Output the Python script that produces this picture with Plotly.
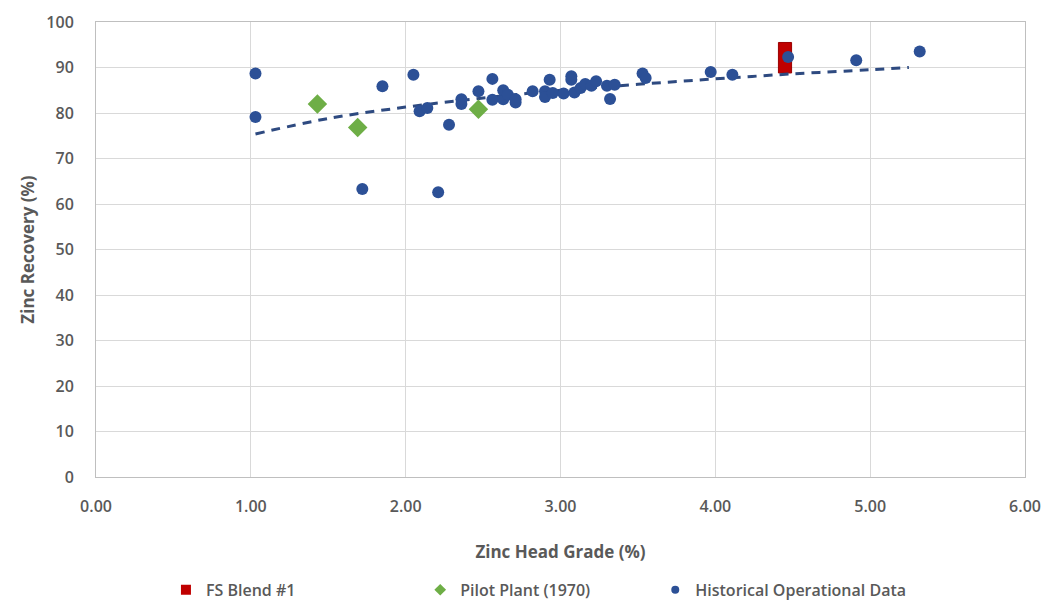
import plotly.graph_objects as go

# Historical Operational Data
hist_x = [1.03, 1.03, 1.72, 1.85, 2.05, 2.09, 2.14, 2.21, 2.28, 2.36, 2.36, 2.47, 2.56, 2.56,
          2.63, 2.63, 2.66, 2.71, 2.71, 2.82, 2.90, 2.90, 2.93, 2.95, 3.02, 3.07, 3.07, 3.09,
          3.13, 3.16, 3.20, 3.23, 3.30, 3.32, 3.35, 3.53, 3.55, 3.97, 4.11, 4.47, 4.91, 5.32]
hist_y = [88.7, 79.1, 63.3, 85.9, 88.4, 80.4, 81.1, 62.6, 77.4, 82.0, 83.0, 84.8, 87.5, 82.9,
          83.0, 85.0, 84.0, 82.3, 83.0, 84.8, 84.8, 83.5, 87.3, 84.4, 84.3, 88.1, 87.3, 84.5,
          85.5, 86.4, 86.0, 87.0, 86.0, 83.1, 86.2, 88.7, 87.7, 89.0, 88.4, 92.3, 91.6, 93.5]

# Pilot Plant (1970)
pilot_x = [1.43, 1.69, 2.47]
pilot_y = [82.0, 76.8, 80.8]

# FS Blend #1 (drawn as a tall red block)
fs_x = [4.45]
fs_low = [88.8]
fs_high = [95.5]

# Trend line
trend_x = [1.03, 1.5, 2.0, 2.5, 3.0, 3.5, 4.0, 4.5, 5.0, 5.25]
trend_y = [75.4, 78.8, 81.3, 83.3, 85.0, 86.3, 87.5, 88.6, 89.5, 90.0]

x_ticks = [0, 1, 2, 3, 4, 5, 6]
y_ticks = [0, 10, 20, 30, 40, 50, 60, 70, 80, 90, 100]

BLUE = "#2C5096"
GREEN = "#6EAE46"
RED = "#C00000"
TEXT = "#595959"
FONT = "Open Sans"

tick_font = dict(family=FONT, size=16, color=TEXT, weight=600)
title_font = dict(family=FONT, size=17, color=TEXT, weight=700)
legend_font = dict(family=FONT, size=16, color=TEXT, weight=600)

fig = go.Figure()

fig.add_trace(go.Bar(
    x=fs_x, base=fs_low, y=[h - l for h, l in zip(fs_high, fs_low)],
    width=0.085, marker=dict(color=RED, line=dict(color="#9A0000", width=1)),
    showlegend=False, hoverinfo="skip"))

fig.add_trace(go.Scatter(
    x=trend_x, y=trend_y, mode="lines",
    line=dict(color="#2E4A80", width=3, dash="9px,7px", shape="spline"),
    showlegend=False, hoverinfo="skip"))

fig.add_trace(go.Scatter(
    x=pilot_x, y=pilot_y, mode="markers",
    marker=dict(symbol="diamond", size=15, color=GREEN),
    showlegend=False))

fig.add_trace(go.Scatter(
    x=hist_x, y=hist_y, mode="markers",
    marker=dict(symbol="circle", size=12, color=BLUE),
    showlegend=False))

# Legend-only entries, each in its own legend box
fig.add_trace(go.Scatter(x=[None], y=[None], mode="markers", name="FS Blend #1",
                         marker=dict(symbol="square", size=10, color=RED), legend="legend"))
fig.add_trace(go.Scatter(x=[None], y=[None], mode="markers", name="Pilot Plant (1970)",
                         marker=dict(symbol="diamond", size=9, color=GREEN), legend="legend2"))
fig.add_trace(go.Scatter(x=[None], y=[None], mode="markers", name="Historical Operational Data",
                         marker=dict(symbol="circle", size=8, color=BLUE), legend="legend3"))

leg_common = dict(orientation="h", xanchor="left", y=-0.248, yanchor="middle",
                  font=legend_font, bgcolor="rgba(0,0,0,0)")

fig.update_layout(
    width=1049, height=597,
    margin=dict(l=88, r=32, t=14, b=128, autoexpand=False),
    paper_bgcolor="white", plot_bgcolor="white",
    font=dict(family=FONT, color=TEXT, size=15),
    barmode="overlay",
    showlegend=True,
    legend=dict(x=0.0753, **leg_common),
    legend2=dict(x=0.349, **leg_common),
    legend3=dict(x=0.602, **leg_common),
)

fig.update_xaxes(
    range=[0, 6], tickvals=x_ticks, tickformat=".2f", automargin=False,
    showgrid=True, gridcolor="#D9D9D9", gridwidth=1,
    showline=True, linecolor="#BFBFBF", linewidth=1, mirror=True,
    zeroline=False, ticks="", ticklabelstandoff=15,
    tickfont=tick_font,
    title=dict(text="Zinc Head Grade (%)", font=title_font, standoff=29),
)
fig.update_yaxes(
    range=[0, 100], tickvals=y_ticks, automargin=False,
    showgrid=True, gridcolor="#D9D9D9", gridwidth=1,
    showline=True, linecolor="#BFBFBF", linewidth=1, mirror=True,
    zeroline=False, ticks="", ticklabelstandoff=18,
    tickfont=tick_font,
    title=dict(text="Zinc Recovery (%)", font=title_font, standoff=7),
)

fig.write_html("out.html")
